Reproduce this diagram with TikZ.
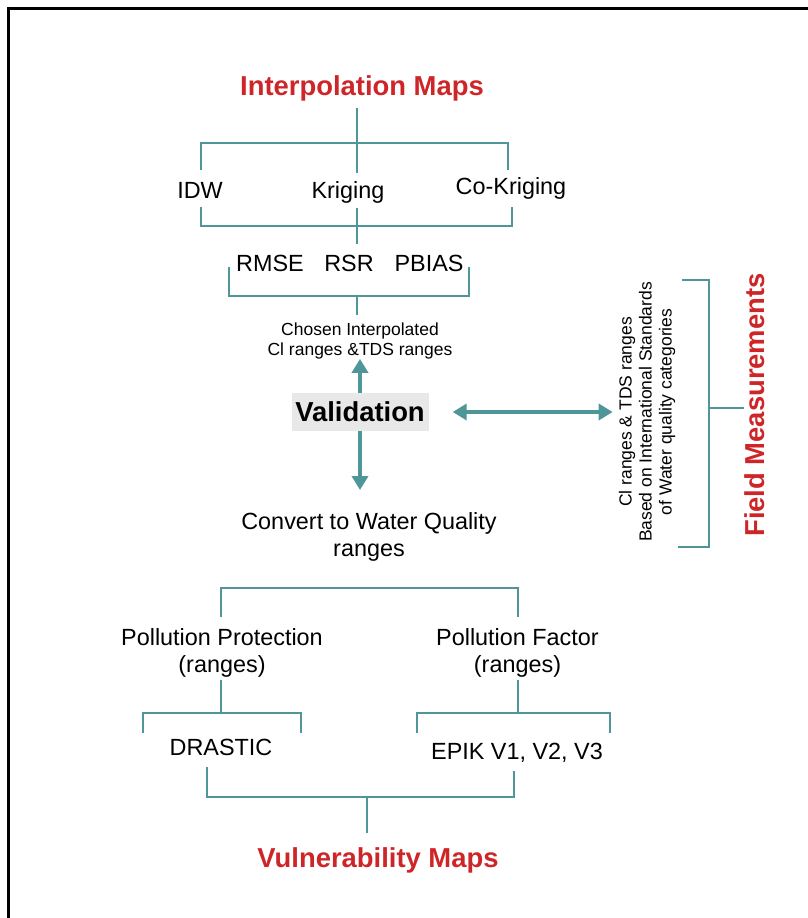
\documentclass[tikz,border=0pt]{standalone}
\usepackage{fontspec}
\setmainfont{Liberation Sans}
\usepackage{tikz}
\usetikzlibrary{arrows.meta}
\definecolor{linecol}{RGB}{78,150,152}
\definecolor{titlered}{RGB}{206,38,40}
\definecolor{boxgray}{RGB}{232,232,232}

\begin{document}
\begin{tikzpicture}[x=1pt, y=-1pt,
    bar/.style={linecol, line width=2.3pt},
    arr/.style={linecol, line width=4pt, -{Triangle[length=14pt,width=16pt]}},
    dbl/.style={linecol, line width=4pt, {Triangle[length=14pt,width=16pt]}-{Triangle[length=14pt,width=16pt]}},
    big/.style={inner sep=0pt, font=\fontsize{23.4}{27}\selectfont, align=center},
    small/.style={inner sep=0pt, font=\fontsize{17.5}{20}\selectfont, align=center},
    head/.style={inner sep=0pt, text=titlered, font=\fontsize{27.4}{32}\selectfont\bfseries}]
                \useasboundingbox (0,0) rectangle (808,918);
                \draw[line width=3pt] (8.5,918) -- (8.5,8.5) -- (808,8.5);

                \node[head, anchor=base] (interp) at (362,95) {Interpolation Maps};
                \node[big, anchor=base] (idw) at (200,198) {IDW};
                \node[big, anchor=base] (krig) at (348,198) {Kriging};
                \node[big, anchor=base] (cokrig) at (511,194) {Co-Kriging};
                \node[big, anchor=base] (rmse) at (270,271) {RMSE};
                \node[big, anchor=base] (rsr) at (349,271) {RSR};
                \node[big, anchor=base] (pbias) at (429,271) {PBIAS};
                \node[small] (chosen) at (360,340.5) {Chosen Interpolated\\Cl ranges \&TDS ranges};
                \node[fill=boxgray, minimum width=137pt, minimum height=38pt, inner sep=0pt,
                    font=\fontsize{27.4}{32}\selectfont\bfseries] (valid) at (360,412) {Validation};
                \coordinate (down) at (360,490);
                \node[big] (conv) at (369,536.5) {Convert to Water Quality\\ranges};
                \node[big] (protect) at (222,653) {Pollution Protection\\(ranges)};
                \node[big] (factor) at (517.5,653) {Pollution Factor\\(ranges)};
                \node[big, anchor=base] (drastic) at (221,755) {DRASTIC};
                \node[big, anchor=base] (epik) at (517,759) {EPIK V1, V2, V3};
                \node[head, anchor=base] (vuln) at (378,867) {Vulnerability Maps};
                \node[small, rotate=90] (standards) at (647,412) {Cl ranges \& TDS ranges\\Based on International Standards\\of Water quality categories};
                \node[head, rotate=90] (field) at (755,405) {Field Measurements};

                \draw[bar] (357,108) -- (357,173);
                \draw[bar] (201,170) -- (201,143) -- (508,143) -- (508,170);
                \draw[bar] (201,207) -- (201,226) -- (512,226) -- (512,207);
                \draw[bar] (357,208) -- (357,244);
                \draw[bar] (229,267) -- (229,296) -- (469,296) -- (469,267);
                \draw[bar] (357,296) -- (357,315);

                \draw[arr] (valid.north) -- (chosen.south);
                \draw[arr] (valid.south) -- (down);
                \draw[dbl] ([xshift=24pt]valid.east) -- ([xshift=-6pt]standards.north);

                \draw[bar] (682,280) -- (709,280) -- (709,547) -- (678,547);
                \draw[bar] (709,408) -- (744,408);

                \draw[bar] (221,617) -- (221,588) -- (518,588) -- (518,617);
                \draw[bar] (221,680) -- (221,713);
                \draw[bar] (518,680) -- (518,713);
                \draw[bar] (143,733) -- (143,713) -- (301,713) -- (301,733);
                \draw[bar] (417,733) -- (417,713) -- (610,713) -- (610,733);
                \draw[bar] (207,767) -- (207,797) -- (514,797) -- (514,771);
                \draw[bar] (367,797) -- (367,833);
            \end{tikzpicture}
\end{document}
